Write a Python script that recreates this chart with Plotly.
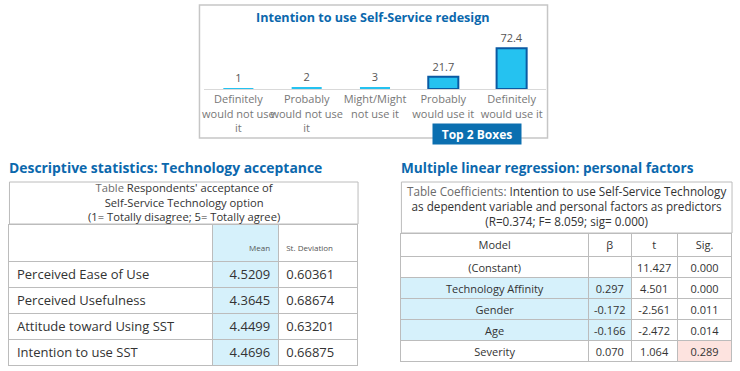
import plotly.graph_objects as go

# ---------------- data ----------------
bar_categories = ["Definitely<br>would not use<br>it", "Probably<br>would not use<br>it",
                  "Might/Might<br>not use it", "Probably<br>would use it", "Definitely<br>would use it"]
bar_values = [1, 2, 3, 21.7, 72.4]
bar_labels = ["1", "2", "3", "21.7", "72.4"]

desc_title_lines = ["<span style='color:#6b6b6b'>Table</span> Respondents' acceptance of",
                    "Self-Service Technology option",
                    "(1= Totally disagree; 5= Totally agree)"]
desc_header = ["", "Mean", "St. Deviation"]
desc_items = ["Perceived Ease of Use", "Perceived Usefulness", "Attitude toward Using SST", "Intention to use SST"]
desc_mean = ["4.5209", "4.3645", "4.4499", "4.4696"]
desc_sd = ["0.60361", "0.68674", "0.63201", "0.66875"]

reg_title_lines = ["<span style='color:#6b6b6b'>Table Coefficients:</span> Intention to use Self-Service Technology",
                   "as dependent variable and personal factors as predictors",
                   "(R=0.374; F= 8.059; sig= 0.000)"]
reg_header = ["Model", "β", "t", "Sig."]
reg_model = ["(Constant)", "Technology Affinity", "Gender", "Age", "Severity"]
reg_beta = ["", "0.297", "-0.172", "-0.166", "0.070"]
reg_t = ["11.427", "4.501", "-2.561", "-2.472", "1.064"]
reg_sig = ["0.000", "0.000", "0.011", "0.014", "0.289"]

# ---------------- style ----------------
W, H = 740, 371
def xp(px): return px / W
def yp(py): return 1 - py / H

BLUE_T = "#0b68ad"
FONT = "Open Sans"
LB = "#d6f1fb"
PINK = "#fde3df"
BORDER = "#bcbcbc"
TXT = "#333333"

fig = go.Figure()

# bar chart
fig.add_trace(go.Bar(
    x=list(range(len(bar_values))), y=bar_values, text=bar_labels,
    textposition="outside", cliponaxis=False,
    textfont=dict(size=11, color="#555555", family=FONT),
    marker=dict(color="#25c2f0", line=dict(color="#0a5aa3", width=[0, 0, 0, 2, 2])),
    width=0.44, xaxis="x", yaxis="y", hoverinfo="skip", showlegend=False,
))

# descriptive stats table
fig.add_trace(go.Table(
    domain=dict(x=[xp(7), xp(357)], y=[yp(370), yp(224)]),
    columnwidth=[204, 66, 80],
    header=dict(values=["\u00a0<br>" + h for h in desc_header], height=29,
                align=["left", "right", "left"],
                fill=dict(color=["white", LB, "white"]), line=dict(color=BORDER, width=1),
                font=dict(family=FONT, size=8, color="#555555")),
    cells=dict(values=[desc_items, desc_mean, desc_sd], height=26,
               align=["left", "right", "left"],
               fill=dict(color=["white", LB, "white"]), line=dict(color=BORDER, width=1),
               font=dict(family=FONT, size=13, color=TXT)),
))

# regression table
row_fill = ["white", LB, LB, LB, "white"]
fig.add_trace(go.Table(
    domain=dict(x=[xp(400), xp(732)], y=[yp(370), yp(233)]),
    columnwidth=[188, 43, 46, 55],
    header=dict(values=reg_header, height=23, align="center",
                fill=dict(color="white"), line=dict(color=BORDER, width=1),
                font=dict(family=FONT, size=11, color=TXT)),
    cells=dict(values=[reg_model, reg_beta, reg_t, reg_sig], height=21, align="center",
               fill=dict(color=[row_fill, row_fill, ["white"] * 5,
                                ["white"] * 4 + [PINK]]),
               line=dict(color=BORDER, width=1),
               font=dict(family=FONT, size=11, color=TXT)),
))

annotations = [
    dict(text="<b>Intention to use Self-Service redesign</b>", xref="paper", yref="paper",
         x=xp(372.5), y=yp(18), xanchor="center", yanchor="middle", showarrow=False,
         font=dict(size=12.6, color=BLUE_T, family=FONT)),
    dict(text="<b>Top 2 Boxes</b>", xref="x", yref="paper", x=3.5, y=yp(133.5),
         xanchor="center", yanchor="middle", showarrow=False,
         bgcolor="#0b6fb0", font=dict(size=12, color="white", family=FONT),
         width=86, height=18),
    dict(text="<b>Descriptive statistics: Technology acceptance</b>", xref="paper", yref="paper",
         x=xp(5), y=yp(167), xanchor="left", yanchor="middle", showarrow=False,
         font=dict(size=13.9, color=BLUE_T, family=FONT)),
    dict(text="<b>Multiple linear regression: personal factors</b>", xref="paper", yref="paper",
         x=xp(398), y=yp(167), xanchor="left", yanchor="middle", showarrow=False,
         font=dict(size=13.6, color=BLUE_T, family=FONT)),
    dict(text="<br>".join(desc_title_lines), xref="paper", yref="paper",
         x=xp(182), y=yp(201.5), xanchor="center", yanchor="middle", align="center",
         showarrow=False, font=dict(size=11.2, color=TXT, family=FONT)),
    dict(text="<br>".join(reg_title_lines), xref="paper", yref="paper",
         x=xp(566), y=yp(205.5), xanchor="center", yanchor="middle", align="center",
         showarrow=False, font=dict(size=11.7, color=TXT, family=FONT)),
]

fig.update_layout(
    width=W, height=H, margin=dict(l=0, r=0, t=0, b=0),
    paper_bgcolor="white", plot_bgcolor="white",
    font=dict(family=FONT),
    xaxis=dict(domain=[xp(202.75), xp(545.25)], range=[-0.5, 4.5],
               tickmode="array", tickvals=list(range(len(bar_values))), ticktext=bar_categories,
               tickangle=0,
               tickfont=dict(size=11, color="#777777", family=FONT),
               showline=True, linecolor="#d9d9d9", linewidth=1, ticks="",
               showgrid=False, zeroline=False, fixedrange=True),
    yaxis=dict(domain=[yp(89), yp(44)], range=[0, 80], visible=False, fixedrange=True),
    shapes=[
        dict(type="rect", xref="paper", yref="paper",
             x0=xp(198), x1=xp(547), y0=yp(138), y1=yp(5),
             line=dict(color="#c6c6c6", width=1.5), layer="below"),
        # table caption boxes
        dict(type="rect", xref="paper", yref="paper",
             x0=xp(7.5), x1=xp(357), y0=yp(224), y1=yp(182),
             line=dict(color=BORDER, width=1), fillcolor="white", layer="below"),
        dict(type="rect", xref="paper", yref="paper",
             x0=xp(400.5), x1=xp(732), y0=yp(233), y1=yp(182),
             line=dict(color=BORDER, width=1), fillcolor="white", layer="below"),
    ],
    annotations=annotations,
)

fig.write_html("out.html", config={"displayModeBar": False},
               post_script="document.body.style.margin='0';")
